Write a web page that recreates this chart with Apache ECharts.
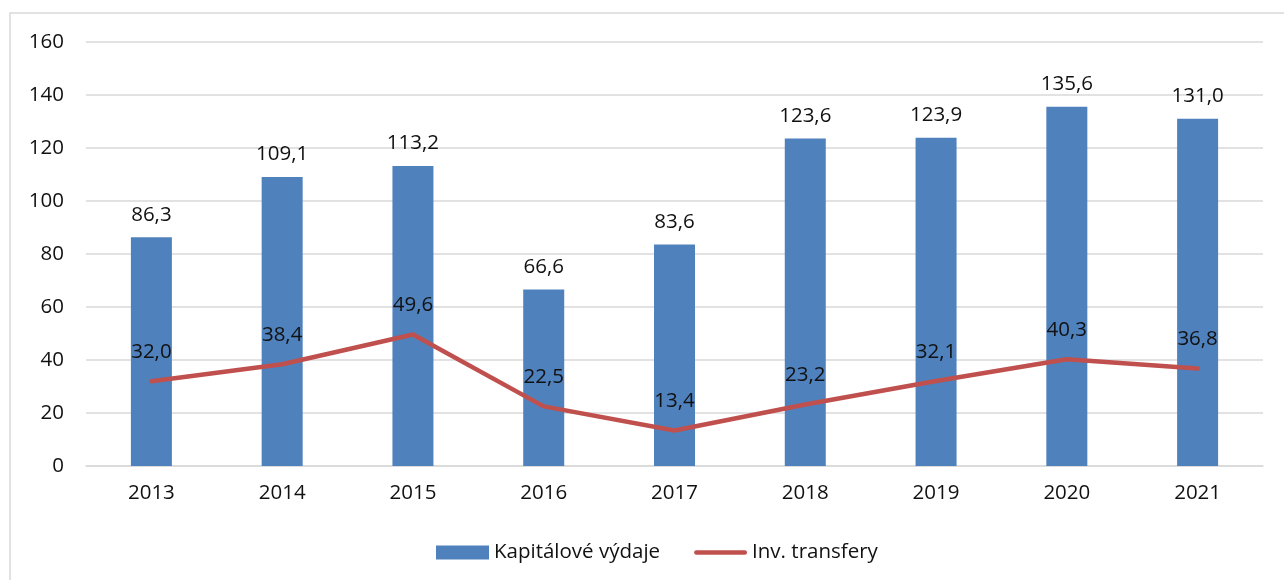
<!DOCTYPE html>
<html><head><meta charset="utf-8">
<script src="https://cdn.jsdelivr.net/npm/echarts@6/dist/echarts.min.js"></script>
<style>html,body{margin:0;padding:0;background:#fff}#c{width:1284px;height:580px}</style>
</head><body><div id="c"></div>
<script>
const categories = ['2013','2014','2015','2016','2017','2018','2019','2020','2021'];
const kapitaloveVydaje = [86.3,109.1,113.2,66.6,83.6,123.6,123.9,135.6,131.0];
const invTransfery = [32.0,38.4,49.6,22.5,13.4,23.2,32.1,40.3,36.8];
const yTicks = {min:0, max:160, interval:20};
const FONT = 'Open Sans';
const FS = 20.5;
const fmt = v => v.toFixed(1).replace('.', ',');
const chart = echarts.init(document.getElementById('c'), null, {renderer:'canvas'});
chart.setOption({
  animation:false,
  textStyle:{fontFamily:FONT},
  graphic:[{type:'rect', shape:{x:10,y:13,width:1400,height:700}, style:{fill:'none', stroke:'#D9D9D9', lineWidth:1.5}, silent:true, z:-1}],
  grid:{left:86, right:21, top:42, bottom:114},
  legend:{
    top:537, left:431, itemWidth:53, itemHeight:14, itemGap:34,
    textStyle:{fontFamily:FONT, fontSize:FS, color:'#111'},
    data:[{name:'Kapitálové výdaje', icon:'rect'},
          {name:'Inv. transfery', icon:'path://M2.5,0 L54.5,0 A2.5,2.5 0 0 1 54.5,5 L2.5,5 A2.5,2.5 0 0 1 2.5,0 Z'}]
  },
  xAxis:{
    type:'category', data:categories,
    axisLine:{lineStyle:{color:'#D9D9D9', width:1.5}},
    axisTick:{show:false},
    axisLabel:{fontFamily:FONT, fontSize:FS, color:'#111', margin:17}
  },
  yAxis:{
    type:'value', min:yTicks.min, max:yTicks.max, interval:yTicks.interval,
    axisLine:{show:false}, axisTick:{show:false},
    splitLine:{lineStyle:{color:'#D9D9D9', width:1.5}},
    axisLabel:{fontFamily:FONT, fontSize:FS, color:'#111', margin:22}
  },
  series:[
    {name:'Kapitálové výdaje', type:'bar', data:kapitaloveVydaje, barWidth:41,
     itemStyle:{color:'#4F81BD'},
     label:{show:true, position:'top', distance:12, formatter:p=>fmt(p.value), fontFamily:FONT, fontSize:FS, color:'#111'}},
    {name:'Inv. transfery', type:'line', data:invTransfery, symbol:'circle', symbolSize:1, showSymbol:true,
     lineStyle:{color:'#C0504D', width:4.5, cap:'round', join:'round'}, itemStyle:{color:'#C0504D'},
     label:{show:true, position:'top', distance:18, formatter:p=>fmt(p.value), fontFamily:FONT, fontSize:FS, color:'#111'}}
  ]
});
</script></body></html>
